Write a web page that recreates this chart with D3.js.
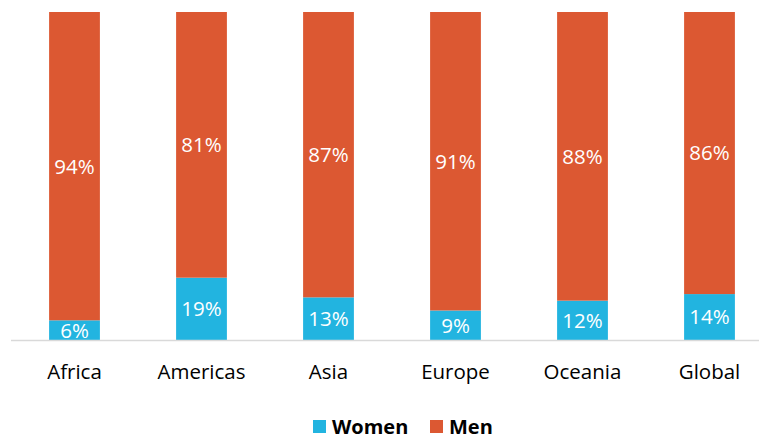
<!DOCTYPE html>
<html>
<head>
<meta charset="utf-8">
<script src="https://cdn.jsdelivr.net/npm/d3@7"></script>
<style>
  body { margin: 0; background: #fff; }
  svg { display: block; font-family: "Open Sans", "Noto Sans", sans-serif; }
</style>
</head>
<body>
<div id="chart"></div>
<script>
// Data
var regions = ["Africa", "Americas", "Asia", "Europe", "Oceania", "Global"];
var women = [6, 19, 13, 9, 12, 14];
var men = [94, 81, 87, 91, 88, 86];
var seriesNames = ["Women", "Men"];
var seriesColors = ["#22b4e0", "#dc5832"];

// SVG setup
var width = 759, height = 439;
var svg = d3.select("#chart").append("svg")
	.attr("width", width).attr("height", height);

var x = d3.scaleBand().domain(regions).range([11, 773]).paddingInner(0.6).paddingOuter(0.3);
var y = d3.scaleLinear().domain([0, 100]).range([340, 12]);

var rows = regions.map(function(r, i) { return {region: r, Women: women[i], Men: men[i]}; });
var stack = d3.stack().keys(seriesNames)(rows);

// Bars
var groups = svg.selectAll("g.series").data(stack).enter().append("g")
	.attr("class", "series")
	.attr("fill", function(d, i) { return seriesColors[i]; });

groups.selectAll("rect").data(function(d) { return d; }).enter().append("rect")
	.attr("x", function(d) { return x(d.data.region); })
	.attr("width", x.bandwidth())
	.attr("y", function(d) { return y(d[1]); })
	.attr("height", function(d) { return y(d[0]) - y(d[1]); });

// Value labels
groups.selectAll("text").data(function(d) { return d; }).enter().append("text")
	.text(function(d) { return (d[1] - d[0]) + "%"; })
	.attr("x", function(d) { return x(d.data.region) + x.bandwidth() / 2; })
	.attr("y", function(d) { return (y(d[0]) + y(d[1])) / 2; })
	.attr("dy", "0.36em")
	.attr("text-anchor", "middle")
	.attr("font-size", "20.5px")
	.attr("fill", "#ffffff");

// Axis line
svg.append("line")
	.attr("x1", 11).attr("x2", 759)
	.attr("y1", y(0) + 0.5).attr("y2", y(0) + 0.5)
	.attr("stroke", "#d9d9d9").attr("stroke-width", 1.5);

// Category labels
svg.selectAll("text.cat").data(regions).enter().append("text")
	.attr("class", "cat")
	.text(function(d) { return d; })
	.attr("x", function(d) { return x(d) + x.bandwidth() / 2; })
	.attr("y", 379)
	.attr("text-anchor", "middle")
	.attr("font-size", "20.5px")
	.attr("fill", "#000");

// Legend
var legendX = [313, 430];
var legend = svg.selectAll("g.legend").data(seriesNames).enter().append("g")
	.attr("class", "legend")
	.attr("transform", function(d, i) { return "translate(" + legendX[i] + ",420)"; });
legend.append("rect")
	.attr("width", 13).attr("height", 13)
	.attr("fill", function(d, i) { return seriesColors[i]; });
legend.append("text")
	.text(function(d) { return d; })
	.attr("x", 19).attr("y", 14)
	.attr("font-size", "20px")
	.attr("font-weight", "bold")
	.attr("fill", "#000");
</script>
</body>
</html>
